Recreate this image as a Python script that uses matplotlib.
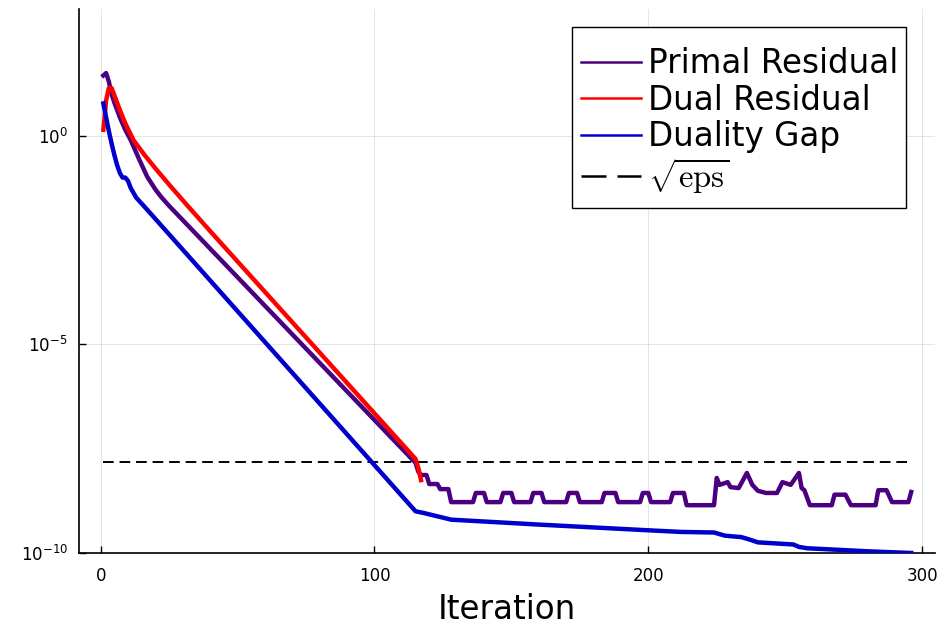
import matplotlib
matplotlib.use("Agg")
import matplotlib.pyplot as plt
from matplotlib.lines import Line2D
from matplotlib.patches import Rectangle

plt.rcParams["font.family"] = ["DejaVu Sans"]
plt.rcParams["mathtext.fontset"] = "cm"

# Primal residual
primal_iter = [1, 2, 3, 4, 5, 7, 9, 11, 14, 17, 20, 22, 25, 115, 116, 117, 119, 120, 123, 124, 127,
               128, 136, 137, 140, 141, 146, 147, 150, 151, 157, 158, 161, 162, 170, 171, 174,
               175, 183, 184, 188, 189, 197, 198, 200, 201, 208, 209, 213, 214, 224, 225, 226,
               229, 230, 233, 236, 238, 240, 243, 247, 249, 252, 255, 256, 257, 259, 267, 268,
               272, 274, 283, 284, 287, 289, 295, 296]
primal_res = [2.8e1, 3.2e1, 2.0e1, 1.0e1, 6.3, 2.8, 1.4, 7.9e-1, 2.8e-1, 1.05e-1, 5.2e-2, 3.5e-2, 2.1e-2,
              1.45e-8, 8.9e-9, 7.4e-9, 7.4e-9, 4.5e-9, 4.5e-9, 3.4e-9, 3.4e-9,
              1.66e-9, 1.66e-9, 2.75e-9, 2.75e-9, 1.66e-9, 1.66e-9, 2.75e-9, 2.75e-9,
              1.66e-9, 1.66e-9, 2.75e-9, 2.75e-9, 1.66e-9, 1.66e-9, 2.75e-9, 2.75e-9,
              1.66e-9, 1.66e-9, 2.75e-9, 2.75e-9, 1.66e-9, 1.66e-9, 2.75e-9, 2.75e-9,
              1.66e-9, 1.66e-9, 2.75e-9, 2.75e-9, 1.4e-9, 1.4e-9, 6.3e-9, 4.3e-9,
              5.0e-9, 3.8e-9, 3.6e-9, 8.3e-9, 4.3e-9, 3.1e-9, 2.75e-9, 2.75e-9,
              5.0e-9, 4.3e-9, 8.3e-9, 3.6e-9, 3.2e-9, 1.4e-9, 1.4e-9, 2.5e-9,
              2.5e-9, 1.4e-9, 1.4e-9, 3.2e-9, 3.2e-9, 1.66e-9, 1.66e-9, 2.9e-9]

# Dual residual
dual_iter = [1, 2, 3, 4, 5, 7, 9, 12, 16, 20, 25, 31, 40, 115, 116, 117]
dual_res = [1.4, 7.1, 1.4e1, 1.4e1, 9.5, 4.2, 2.0, 7.9e-1, 3.5e-1, 1.66e-1, 6.8e-2, 2.4e-2, 5.2e-3,
            1.8e-8, 1.1e-8, 5.6e-9]

# Duality gap
gap_iter = [1, 2, 3, 4, 5, 6, 7, 8, 9, 10, 11, 13, 17, 115, 118, 128, 160, 200, 212, 224,
            228, 234, 237, 240, 253, 255, 258, 280, 296]
gap = [6.0, 2.8, 1.3, 6.6e-1, 3.5e-1, 2.0e-1, 1.3e-1, 1.0e-1, 1.0e-1, 8.3e-2, 5.6e-2, 3.3e-2,
       1.7e-2, 1.0e-9, 9.1e-10, 6.3e-10, 4.8e-10, 3.5e-10, 3.2e-10, 3.1e-10,
       2.6e-10, 2.4e-10, 2.1e-10, 1.8e-10, 1.6e-10, 1.4e-10, 1.3e-10, 1.1e-10, 1.0e-10]

sqrt_eps = 1.49e-8
eps_iter = [1, 296]

col_primal = "#4b0082"
col_dual = "#ff0000"
col_gap = "#0000cd"

fig = plt.figure(figsize=(9.43, 6.26), dpi=100)
ax = fig.add_axes([79 / 943, 73 / 626, 856 / 943, 544 / 626])

ax.plot(primal_iter, primal_res, color=col_primal, lw=3.2, zorder=3)
ax.plot(dual_iter, dual_res, color=col_dual, lw=3.2, zorder=3)
ax.plot(gap_iter, gap, color=col_gap, lw=3.2, zorder=3)
ax.plot(eps_iter, [sqrt_eps, sqrt_eps], color="black", lw=1.4, ls=(0, (5.5, 3)), zorder=2)

ax.set_yscale("log")
ax.set_xlim(-7.9, 304.7)
ax.set_ylim(1e-10, 1.1e3)
ax.set_xticks([0, 100, 200, 300])
ax.set_yticks([1e-10, 1e-5, 1e0])
ax.minorticks_off()
ax.tick_params(direction="in", length=5, width=1, labelsize=12)
ax.tick_params(axis="x", pad=10)
ax.tick_params(axis="y", pad=8)
ax.grid(True, color="black", alpha=0.1, lw=0.8)
ax.spines["top"].set_visible(False)
ax.spines["right"].set_visible(False)
ax.spines["left"].set_linewidth(1.2)
ax.spines["bottom"].set_linewidth(1.2)
ax.set_xlabel("Iteration", fontsize=23.5, labelpad=6)

# legend box
ax.add_patch(Rectangle((572 / 943, 1 - 208 / 626), 334 / 943, 181 / 626,
                       transform=fig.transFigure, facecolor="white", edgecolor="black",
                       lw=1, zorder=4))
handles = [Line2D([], [], color=col_primal, lw=1.8),
           Line2D([], [], color=col_dual, lw=1.8),
           Line2D([], [], color=col_gap, lw=1.8),
           Line2D([], [], color="black", lw=1.8, ls=(0, (10, 4.4)))]
labels = ["Primal Residual", "Dual Residual", "Duality Gap", r"$\sqrt{\mathrm{eps}}$"]
leg = ax.legend(handles, labels, loc="upper left", bbox_to_anchor=(581 / 943, 1 - 47 / 626),
                bbox_transform=fig.transFigure, frameon=False, fontsize=23.5,
                borderpad=0, borderaxespad=0, handlelength=1.85, handletextpad=0.2,
                labelspacing=0.11)
leg.set_zorder(5)

plt.savefig("out.png", dpi=100)
